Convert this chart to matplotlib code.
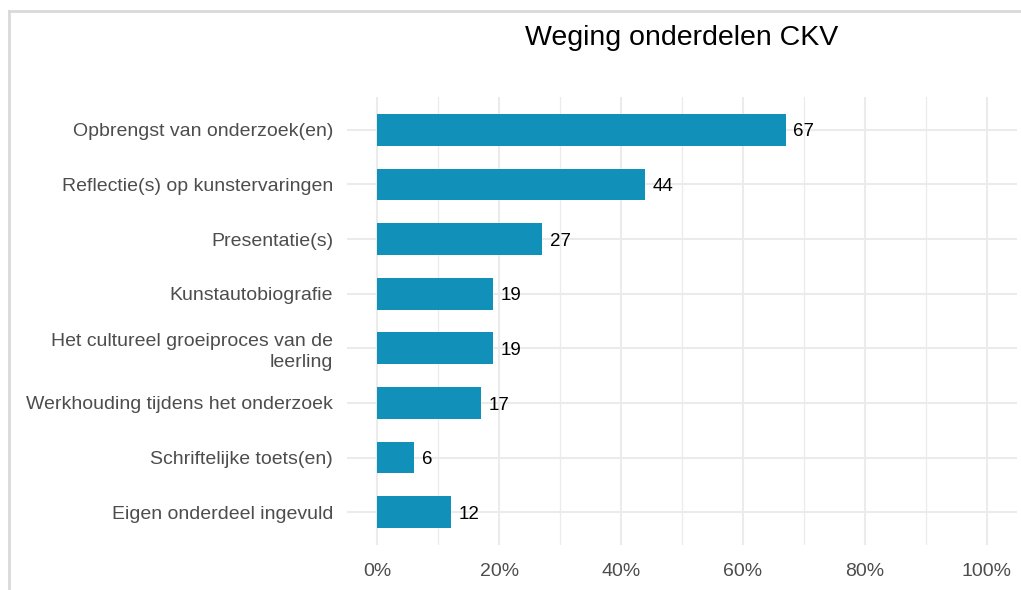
import matplotlib
matplotlib.use("Agg")
import matplotlib.pyplot as plt
from matplotlib.lines import Line2D
from matplotlib.ticker import MultipleLocator, FuncFormatter

categories = [
    "Opbrengst van onderzoek(en)",
    "Reflectie(s) op kunstervaringen",
    "Presentatie(s)",
    "Kunstautobiografie",
    "Het cultureel groeiproces van de\nleerling",
    "Werkhouding tijdens het onderzoek",
    "Schriftelijke toets(en)",
    "Eigen onderdeel ingevuld",
]
values = [67, 44, 27, 19, 19, 17, 6, 12]
title = "Weging onderdelen CKV"

plt.rcParams['font.family'] = ['Liberation Sans', 'DejaVu Sans']

W, H = 1021, 590
fig = plt.figure(figsize=(W / 100, H / 100), dpi=100)
ax = fig.add_axes([347 / W, 1 - 545 / H, (1017 - 347) / W, (545 - 97) / H])

n = len(categories)
ypos = list(range(n))
ax.barh(ypos, values, height=0.58, color="#1190BA", zorder=3)
for y, v in zip(ypos, values):
    ax.annotate(f"{v}", (v, y), xytext=(5.5, -1.5), textcoords="offset points",
                ha="left", va="center", fontsize=13.5, color="black")

ax.set_xlim(-5, 105)
ax.set_ylim(n - 0.4, -0.6)
ax.set_yticks(ypos)
ax.set_yticklabels(categories, fontsize=14, color="#4D4D4D", ha="right", linespacing=1.25)
ax.xaxis.set_major_locator(MultipleLocator(20))
ax.xaxis.set_minor_locator(MultipleLocator(10))
ax.xaxis.set_major_formatter(FuncFormatter(lambda x, p: f"{x:.0f}%"))
ax.tick_params(axis="x", which="both", length=0, labelsize=14, labelcolor="#4D4D4D", pad=13)
ax.tick_params(axis="y", which="both", length=0, pad=10)
for s in ax.spines.values():
    s.set_visible(False)
ax.grid(True, which="major", axis="both", color="#EBEBEB", linewidth=1.5, zorder=0)
ax.grid(True, which="minor", axis="x", color="#EBEBEB", linewidth=0.9, zorder=0)
ax.set_axisbelow(True)

fig.text(682 / W, 1 - 38 / H, title, ha="center", va="center", fontsize=20.5, color="black")

# outer border (left and top)
fig.add_artist(Line2D([8.5 / W, 8.5 / W], [0, 1 - 10.5 / H], transform=fig.transFigure,
                      color="#D9D9D9", linewidth=2))
fig.add_artist(Line2D([8.5 / W, 1], [1 - 10.5 / H, 1 - 10.5 / H], transform=fig.transFigure,
                      color="#D9D9D9", linewidth=2))

fig.savefig("out.png", dpi=100)
